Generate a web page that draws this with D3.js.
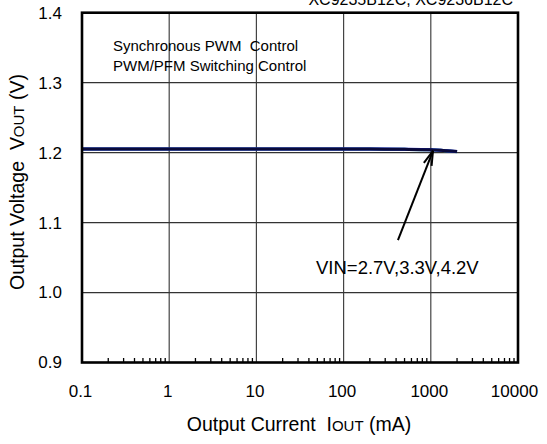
<!DOCTYPE html>
<html><head><meta charset="utf-8">
<script src="https://cdn.jsdelivr.net/npm/d3@7"></script>
<style>body{margin:0;background:#fff}svg{display:block}text{font-family:"Liberation Sans",Arial,sans-serif;fill:#000;white-space:pre}</style>
</head><body><svg id="c" width="547" height="444"></svg>
<script>
const currents = [0.1, 0.2, 0.5, 1, 2, 5, 10, 20, 50, 100, 200, 500, 1000, 1500, 2000];
const vin27 = [1.2052, 1.2052, 1.2052, 1.2052, 1.2052, 1.2052, 1.2052, 1.2052, 1.2052, 1.2051, 1.2050, 1.2047, 1.2040, 1.2026, 1.2014];
const vin33 = [1.2053, 1.2053, 1.2053, 1.2053, 1.2053, 1.2053, 1.2053, 1.2053, 1.2053, 1.2052, 1.2051, 1.2048, 1.2041, 1.2028, 1.2016];
const vin42 = [1.2052, 1.2052, 1.2052, 1.2052, 1.2052, 1.2052, 1.2052, 1.2052, 1.2052, 1.2051, 1.2050, 1.2047, 1.2040, 1.2027, 1.2015];
const seriesNames = ["VIN=2.7V", "VIN=3.3V", "VIN=4.2V"];
const xTicks = [0.1, 1, 10, 100, 1000, 10000];
const xTickLabels = ["0.1", "1", "10", "100", "1000", "10000"];
const yTicks = [0.9, 1.0, 1.1, 1.2, 1.3, 1.4];
const yTickLabels = ["0.9", "1.0", "1.1", "1.2", "1.3", "1.4"];
const legendLines = ["Synchronous PWM  Control", "PWM/PFM Switching Control"];
const topNote = "XC9235B12C, XC9236B12C";
const annotation = "VIN=2.7V,3.3V,4.2V";

const svg = d3.select("#c");
const L = 82, R = 518, T = 12.7, B = 362.5;
const x = d3.scaleLog().domain([0.1, 10000]).range([L, R]);
const y = d3.scaleLinear().domain([0.9, 1.4]).range([B, T]);

// top note (cropped at the top edge as in the reference)
svg.append("text").attr("x", 513).attr("y", 4.5).attr("text-anchor", "end")
  .style("font-size", "16px").text(topNote);

// grid
const g = svg.append("g");
g.selectAll(".vg").data(xTicks.slice(1, -1)).enter().append("line")
  .attr("x1", d => x(d)).attr("x2", d => x(d)).attr("y1", T).attr("y2", B)
  .attr("stroke", "#444").attr("stroke-width", 1.2);
g.selectAll(".hg").data(yTicks.slice(1, -1)).enter().append("line")
  .attr("x1", L).attr("x2", R).attr("y1", d => y(d)).attr("y2", d => y(d))
  .attr("stroke", "#333").attr("stroke-width", 1.2);

// minor ticks on bottom
const minors = [];
for (let e = -1; e < 4; e++) for (let m = 2; m <= 9; m++) minors.push(m * Math.pow(10, e));
g.selectAll(".mt").data(minors).enter().append("line")
  .attr("x1", d => x(d)).attr("x2", d => x(d)).attr("y1", B).attr("y2", B - 4.5)
  .attr("stroke", "#000").attr("stroke-width", 1.3);

// axes labels via d3 axes
const xAxis = d3.axisBottom(x).tickValues(xTicks).tickFormat((d, i) => xTickLabels[i]).tickSize(0).tickPadding(22);
const xa = svg.append("g").attr("transform", `translate(0,${B})`).call(xAxis);
xa.select(".domain").remove();
xa.selectAll("text").style("font-size", "17px").style("font-family", "Liberation Sans, Arial, sans-serif")
  .attr("dx", (d, i) => i === xTicks.length - 1 ? -4 : -2);
const yAxis = d3.axisLeft(y).tickValues(yTicks).tickFormat((d, i) => yTickLabels[i]).tickSize(0).tickPadding(20);
const ya = svg.append("g").attr("transform", `translate(${L},0)`).call(yAxis);
ya.select(".domain").remove();
ya.selectAll("text").style("font-size", "17px").style("font-family", "Liberation Sans, Arial, sans-serif");

// curves
const colors = ["#1a9fd0", "#2020c0", "#0a0a3a"];
const line = d3.line().x((d, i) => x(currents[i])).y(d => y(d)).curve(d3.curveMonotoneX);
[vin27, vin33, vin42].forEach((s, k) => {
  svg.append("path").datum(s).attr("d", line).attr("fill", "none")
    .attr("stroke", colors[k]).attr("stroke-width", 3);
});

// frame
svg.append("rect").attr("x", L).attr("y", T).attr("width", R - L).attr("height", B - T)
  .attr("fill", "none").attr("stroke", "#000").attr("stroke-width", 2.6);

// legend text
legendLines.forEach((t, i) => {
  svg.append("text").attr("x", 113).attr("y", 51 + i * 20).style("font-size", "15px").text(t);
});

// arrow
const tail = [x(420), y(1.075)], tip = [x(1060), y(1.2025)];
svg.append("line").attr("x1", tail[0]).attr("y1", tail[1]).attr("x2", tip[0]).attr("y2", tip[1])
  .attr("stroke", "#000").attr("stroke-width", 2);
const ang = Math.atan2(tail[1] - tip[1], tail[0] - tip[0]);
[0.28, -0.28].forEach(da => {
  svg.append("line").attr("x1", tip[0]).attr("y1", tip[1])
    .attr("x2", tip[0] + 15 * Math.cos(ang + da)).attr("y2", tip[1] + 15 * Math.sin(ang + da))
    .attr("stroke", "#000").attr("stroke-width", 2);
});
svg.append("text").attr("x", 316).attr("y", 274).style("font-size", "18.5px").text(annotation);

// axis titles
const yt = svg.append("text").attr("transform", "translate(24,182) rotate(-90)").attr("text-anchor", "middle").style("font-size", "19.5px");
yt.append("tspan").text("Output Voltage  V");
yt.append("tspan").style("font-size", "15px").text("OUT");
yt.append("tspan").text(" (V)");
const xt = svg.append("text").attr("x", 299).attr("y", 431).attr("text-anchor", "middle").style("font-size", "19.5px");
xt.append("tspan").text("Output Current  I");
xt.append("tspan").style("font-size", "15px").text("OUT");
xt.append("tspan").text(" (mA)");
</script></body></html>
